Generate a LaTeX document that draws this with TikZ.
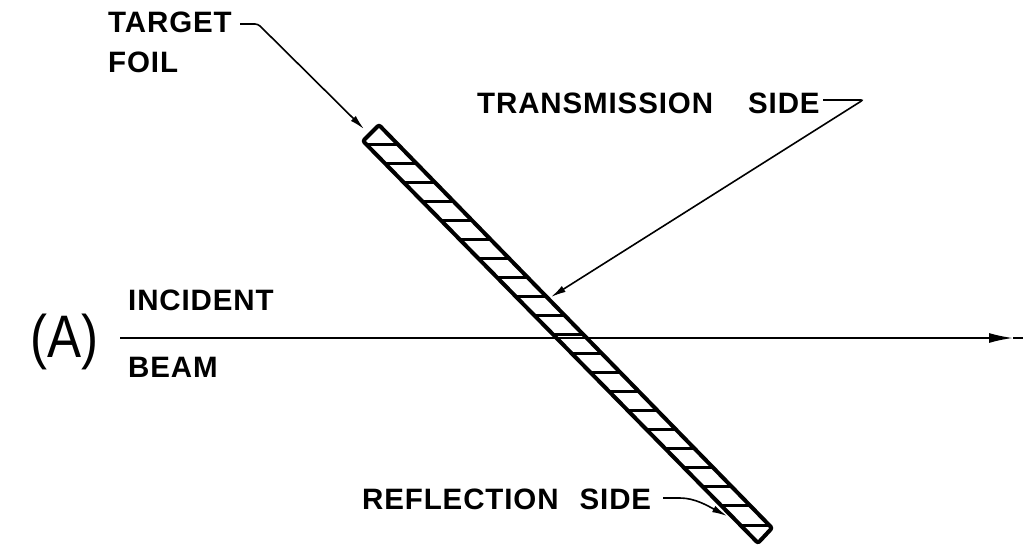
\documentclass[tikz,border=0pt]{standalone}
\usepackage{fontspec}
\setmainfont{Liberation Sans}
\newfontfamily\lblfont[LetterSpace=3]{Liberation Sans}
\usetikzlibrary{arrows.meta}
\begin{document}
\begin{tikzpicture}[x=1pt,y=-1pt,
  lbl/.style={font=\lblfont\fontsize{29.5}{30}\selectfont\bfseries, inner sep=0pt, anchor=base west},
  leader/.style={line width=1.6pt},
  tipped/.style={-{Latex[length=15pt,width=7pt]}},
  foiledge/.style={line width=4pt, line join=round, rounded corners=2pt},
  hatch/.style={line width=3pt},
  beamline/.style={line width=1.8pt}]
\useasboundingbox (0,0) rectangle (1023,552);

% incident beam
\coordinate (bs) at (120,338);
\coordinate (bt) at (1013,338);
\coordinate (be) at (1023,338);
\draw[beamline, -{Latex[length=24pt,width=10pt]}] (bs) -- (bt);
\draw[beamline] (bt) -- (be);

% target foil
\coordinate (f1) at (363,141);
\coordinate (f2) at (379,125);
\coordinate (f3) at (772,528);
\coordinate (f4) at (758,543);
\draw[foiledge] (f1) -- (f2) -- (f3) -- (f4) -- cycle;
\foreach \k in {0,...,20} {
  \pgfmathsetmacro\yy{144+19.05*\k}
  \pgfmathsetmacro\xl{363+(\yy-141)*0.9826}
  \pgfmathsetmacro\xr{379+(\yy-125)*0.9752}
  \draw[hatch] (\xl,\yy) -- (\xr,\yy);
}

% labels
\node[lbl] (tgt) at (108,32) {TARGET};
\node[lbl] (foil) at (108,72) {FOIL};
\node[lbl] (trans) at (477,113) {TRANSMISSION\hspace{35pt}SIDE};
\node[lbl] (inc) at (128,310) {INCIDENT};
\node[lbl] (beam) at (128,377) {BEAM};
\node[lbl] (refl) at (362,509) {REFLECTION\hspace{21pt}SIDE};
\node[font=\fontsize{60}{60}\selectfont, inner sep=0pt, anchor=base west] (lab) at (30,357) {\scalebox{0.85}[1]{(A)}};

% leaders
\coordinate (t1) at (240,24);
\coordinate (t2) at (258,24);
\coordinate (t3) at (364,129);
\draw[leader,tipped,rounded corners=3pt] (t1) -- (t2) -- (t3);

\coordinate (r1) at (823,100);
\coordinate (r2) at (863,100);
\coordinate (r3) at (551,297);
\draw[leader,tipped,rounded corners=2pt] (r1) -- (r2) -- (r3);

\coordinate (s1) at (663,498);
\coordinate (s2) at (680,498);
\coordinate (s3) at (727,516);
\draw[leader,tipped] (s1) -- (s2) .. controls (695,498) and (708,506) .. (s3);
\end{tikzpicture}
\end{document}
